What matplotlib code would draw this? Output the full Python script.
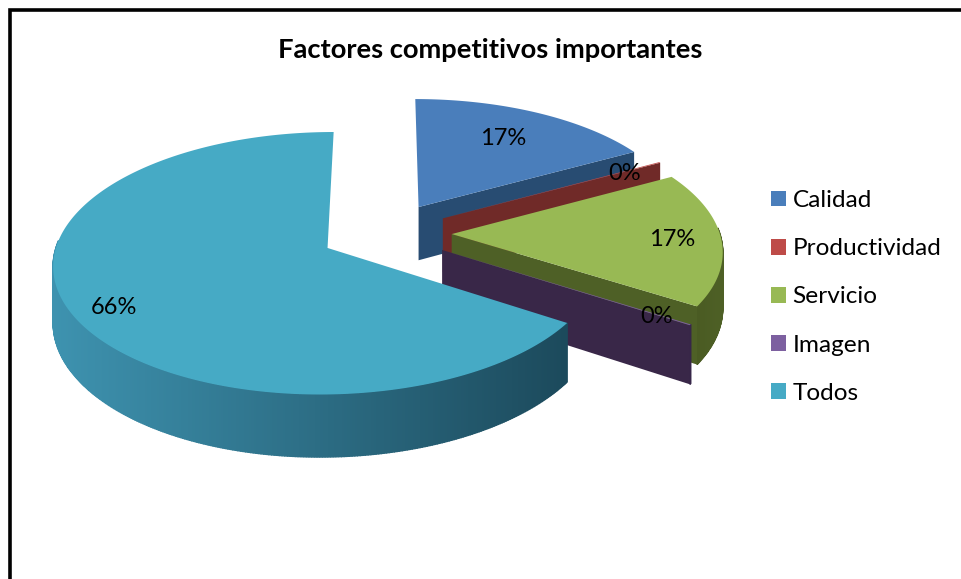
import numpy as np
import matplotlib
matplotlib.use('Agg')
import matplotlib.pyplot as plt
from matplotlib.colors import to_rgb
from matplotlib.patches import Patch, Polygon

titulo = 'Factores competitivos importantes'
categorias = ['Calidad', 'Productividad', 'Servicio', 'Imagen', 'Todos']
# los "0%" del original son porciones casi nulas
valores = [17, 0.1, 17, 0.1, 66]

colores = ['#4A7EBB', '#BE4B48', '#98B954', '#7D60A0', '#46AAC5']
muro_claro = ['#284C72', '#702A28', '#4E6026', '#392748', '#3E93B0']
muro_oscuro = ['#234466', '#6A2523', '#46561F', '#36264A', '#1C4A5C']

# proyeccion del pie 3D, en pixeles de la imagen
CX, CY = 386, 233
RX, RY = 268, 126
PERSP = 0.115
ALTO = 54.5
EXPLOSION = 0.245
label_r = [0.72, 0.83, 0.82, 0.87, 0.85]
label_da = [-1, 0, 0, 0, -1.5]


def proyectar(u, v, z=0):
    s = 1 / (1 + PERSP * v)
    return CX + RX * u * s, CY - RY * v * s + z * ALTO * s


def plano(ang, r, ex, ey):
    a = np.radians(ang)
    return ex + r * np.sin(a), ey + r * np.cos(a)


def mezcla(c1, c2, t):
    return tuple((1 - t) * np.array(to_rgb(c1)) + t * np.array(to_rgb(c2)))


fig = plt.figure(figsize=(9.61, 5.79), dpi=100)
ax = fig.add_axes([0, 0, 1, 1])
ax.set_xlim(0, 961)
ax.set_ylim(579, 0)
ax.axis('off')
plt.rcParams['font.family'] = ['Lato', 'DejaVu Sans']

total = sum(valores)
bordes = np.concatenate([[0], np.cumsum(valores)]) / total * 360

for i, (val, col) in enumerate(zip(valores, colores)):
    a0, a1 = bordes[i], bordes[i + 1]
    mid = (a0 + a1) / 2
    ex, ey = plano(mid, EXPLOSION, 0, 0)
    angs = np.linspace(a0, a1, max(3, int((a1 - a0) * 2)))
    u, v = plano(angs, 1, ex, ey)
    xt, yt = proyectar(u, v, 0)
    xb, yb = proyectar(u, v, 1)
    ax_, ay_ = proyectar(ex, ey, 0)
    bx_, by_ = proyectar(ex, ey, 1)

    # muro exterior, con degradado segun x; la mitad trasera no se ve
    for j in range(len(angs) - 1):
        if np.cos(np.radians(angs[j])) > 0.05:
            continue
        t = np.clip((xt[j] - 50) / 515, 0, 1) if i == 4 else np.clip((722 - xt[j]) / 50, 0, 1)
        c = mezcla(muro_claro[i], muro_oscuro[i], t)
        ax.add_patch(Polygon([(xt[j], yt[j]), (xt[j + 1], yt[j + 1]),
                              (xb[j + 1], yb[j + 1]), (xb[j], yb[j])],
                             facecolor=c, edgecolor=c, lw=1, zorder=i * 3 + 1))

    # muro radial final (el de Todos casi no se ve)
    if i != 4:
        ax.add_patch(Polygon([(ax_, ay_), (xt[-1], yt[-1]), (xb[-1], yb[-1]), (bx_, by_)],
                             facecolor=muro_claro[i], edgecolor='none', zorder=i * 3 + 1))

    # cara superior
    ax.add_patch(Polygon(np.column_stack([np.r_[ax_, xt], np.r_[ay_, yt]]),
                         facecolor=col, edgecolor='none', zorder=i * 3 + 2))

    lx, ly = proyectar(*plano(mid + label_da[i], label_r[i], ex, ey))
    ax.text(lx, ly + 2, f'{val:.0f}%', ha='center', va='center', fontsize=17,
            color='black', zorder=30)

ax.text(490, 50, titulo, ha='center', va='center', fontsize=19.7,
        fontweight='bold', color='black', zorder=30)

handles = [Patch(facecolor=c, edgecolor='none') for c in colores]
ax.legend(handles, categorias, loc='upper left', bbox_to_anchor=(759, 178),
          bbox_transform=ax.transData, frameon=False, fontsize=17.6,
          handlelength=0.6, handleheight=0.6, handletextpad=0.27,
          labelspacing=1.11, borderpad=0.5, borderaxespad=0)

# marco
ax.plot([10, 10, 961], [579, 9.5, 9.5], color='black', lw=2.6, solid_joinstyle='miter', zorder=31)

fig.savefig('out.png', dpi=100, facecolor='white')
